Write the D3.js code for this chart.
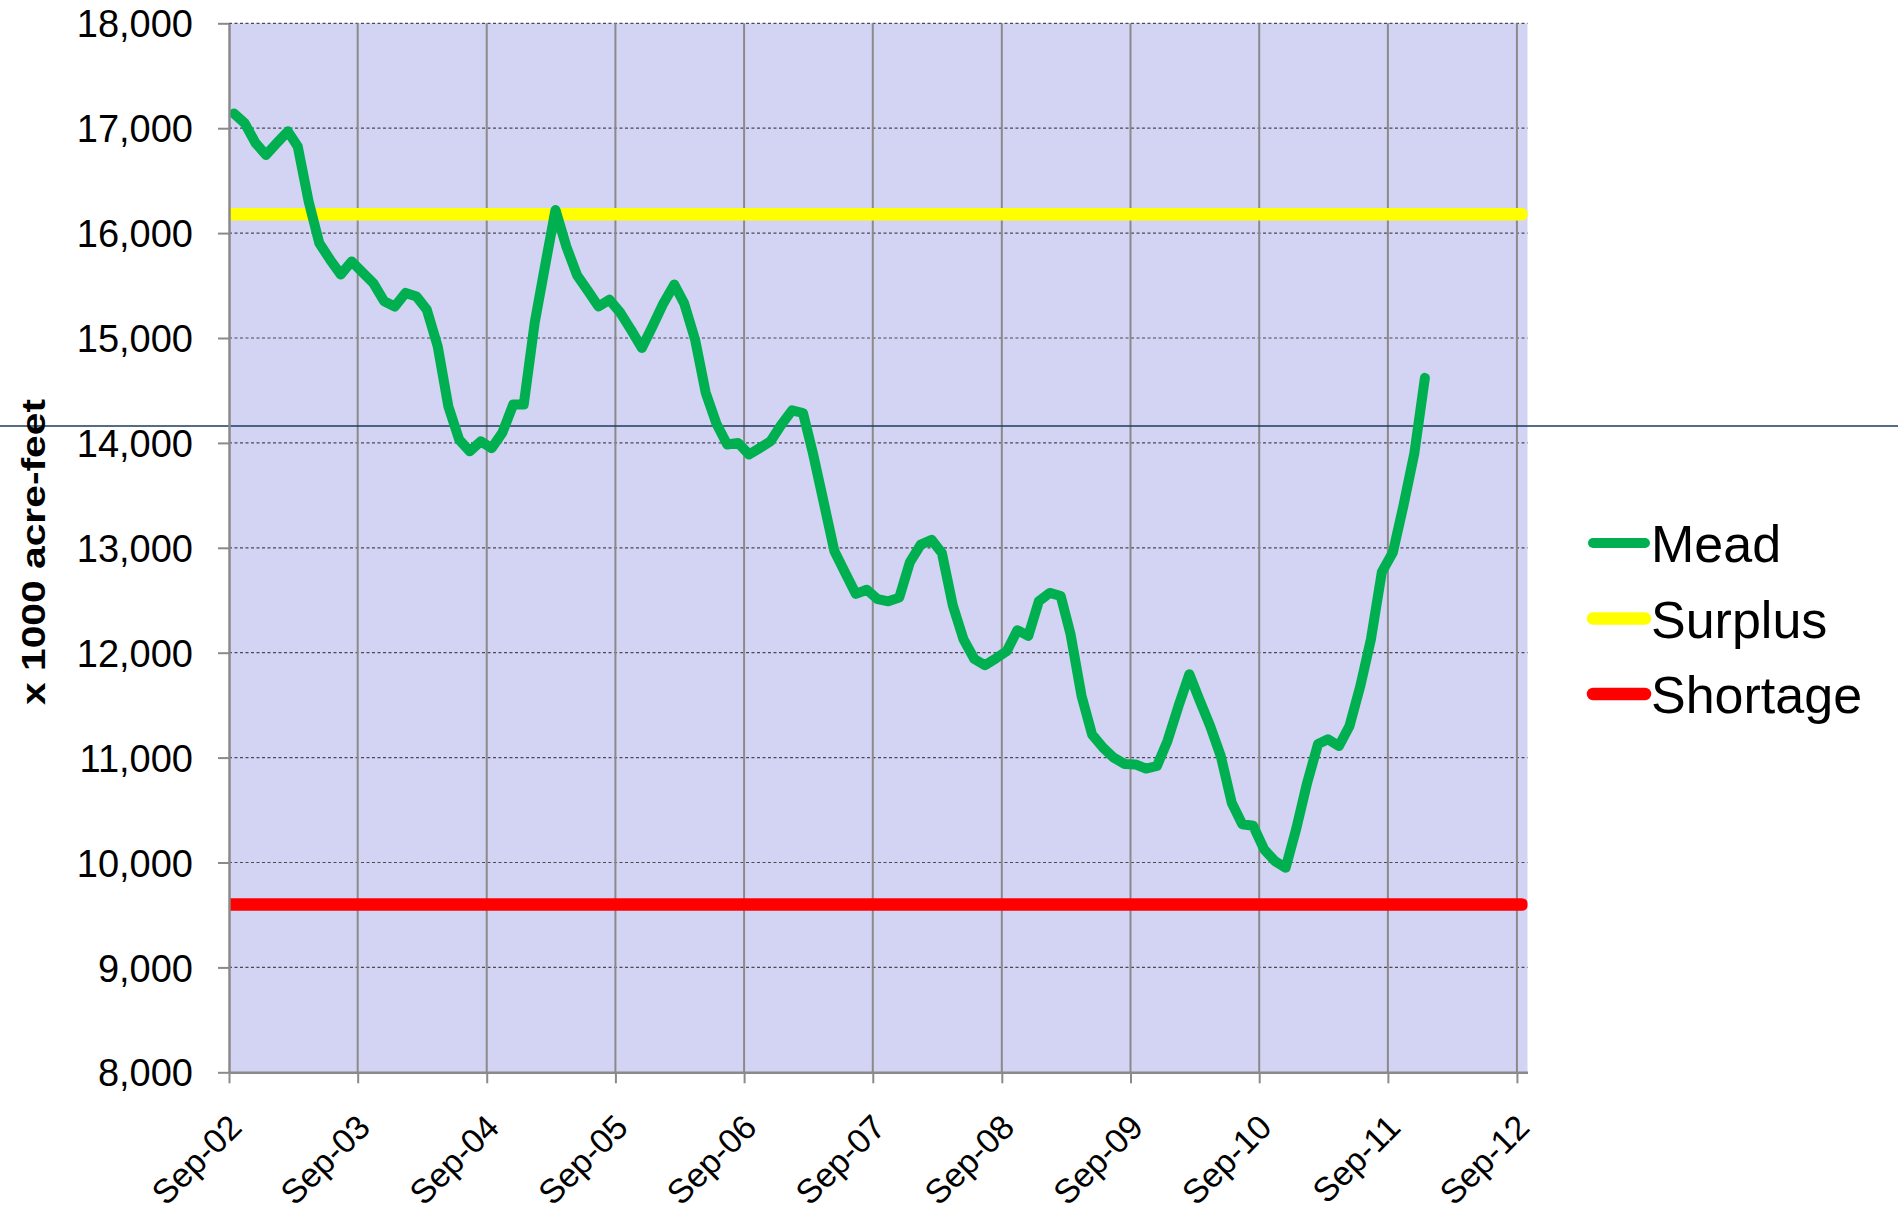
<!DOCTYPE html>
<html>
<head>
<meta charset="utf-8">
<script src="https://cdn.jsdelivr.net/npm/d3@7"></script>
<style>
  html, body { margin: 0; padding: 0; background: #fff; }
  svg { display: block; font-family: "Liberation Sans", Arial, sans-serif; }
</style>
</head>
<body>
<svg id="viz"></svg>
<script>
/* Data */

// Lake Mead storage, monthly, starting Sep 2002 (x 1000 acre-feet)
const meadStart = new Date(2002, 8, 15);
const meadValues = [
  17140, 17050, 16860, 16745, 16860, 16970, 16825, 16300, 15905, 15745, 15605, 15730,
  15625, 15525, 15350, 15300, 15430, 15395, 15270, 14920, 14350, 14030, 13920, 14015,
  13950, 14095, 14365, 14365, 15145, 15715, 16220, 15870, 15600, 15450, 15300, 15365,
  15240, 15080, 14905, 15110, 15330, 15510, 15330, 14985, 14480, 14180, 13985, 14000,
  13890, 13950, 14015, 14170, 14310, 14285, 13905, 13430, 12970, 12760, 12560, 12600,
  12510, 12490, 12525, 12860, 13030, 13075, 12950, 12450, 12130, 11940, 11880, 11945,
  12015, 12215, 12160, 12490, 12570, 12540, 12175, 11590, 11220, 11095, 11000, 10940,
  10935, 10895, 10920, 11160, 11490, 11795, 11555, 11300, 11015, 10570, 10365, 10350,
  10125, 10015, 9950, 10320, 10760, 11130, 11175, 11110, 11300, 11685, 12130, 12770,
  12955, 13400, 13900, 14620
];

const surplusLevel = 16180;
const shortageLevel = 9600;
const levelDates = [new Date(2002, 7, 1), new Date(2012, 8, 15)];

const seriesNames = ["Mead", "Surplus", "Shortage"];
const seriesColors = ["#00B050", "#FFFF00", "#FF0000"];

const yTicks = [8000, 9000, 10000, 11000, 12000, 13000, 14000, 15000, 16000, 17000, 18000];
const xTickYears = [2002, 2003, 2004, 2005, 2006, 2007, 2008, 2009, 2010, 2011, 2012];
const yTitle = "x 1000 acre-feet";

/* Environment */

let width = 1898;
let height = 1216;

/* Layout */

let plot = {left: 229, right: 1527.5, top: 23.3, bottom: 1072.3};
let ruleY = 426;

/* SVG */

const svg = d3.select('#viz')
    .attr('width', width)
    .attr('height', height);

/* Scales */

let x = d3.scaleTime()
    .domain([new Date(2002, 8, 1), new Date(2012, 9, 1)])
    .range([plot.left, plot.right]);

let y = d3.scaleLinear()
    .domain([8000, 18000])
    .range([plot.bottom, plot.top]);

let color = d3.scaleOrdinal().domain(seriesNames).range(seriesColors);

let meadData = meadValues.map((v, i) => ({date: d3.timeMonth.offset(meadStart, i), value: v}));

/* Layers */

svg.append("defs").append("clipPath")
    .attr("id", "plot-clip")
    .append("rect")
    .attr("x", plot.left)
    .attr("y", plot.top - 10)
    .attr("width", plot.right - plot.left)
    .attr("height", plot.bottom - plot.top + 20);

let gBack = svg.append("g");
let gGrid = svg.append("g");
let gRule = svg.append("g");
let gLines = svg.append("g").attr("clip-path", "url(#plot-clip)");
let gXAxis = svg.append("g");
let gYAxis = svg.append("g");
let gTitle = svg.append("g");
let gLegend = svg.append("g");

/* Background */

gBack.append("rect")
    .attr("x", plot.left)
    .attr("y", plot.top)
    .attr("width", plot.right - plot.left)
    .attr("height", plot.bottom - plot.top)
    .attr("fill", "#D3D3F3");

/* Grid */

let xTicks = xTickYears.map(yr => new Date(yr, 8, 1));

gGrid.selectAll("line.h")
    .data(yTicks.filter(d => d > 8000))
    .enter().append("line")
    .attr("class", "h")
    .attr("x1", plot.left)
    .attr("x2", plot.right)
    .attr("y1", d => y(d))
    .attr("y2", d => y(d))
    .attr("stroke", "#4a4a55")
    .attr("stroke-width", 1.2)
    .attr("stroke-dasharray", "3,2.5");

gGrid.selectAll("line.v")
    .data(xTicks.slice(1))
    .enter().append("line")
    .attr("class", "v")
    .attr("x1", d => x(d))
    .attr("x2", d => x(d))
    .attr("y1", plot.top)
    .attr("y2", plot.bottom)
    .attr("stroke", "#8a8a8a")
    .attr("stroke-width", 2);

/* Stray rule across the page */

gRule.append("line")
    .attr("x1", 0)
    .attr("x2", width)
    .attr("y1", ruleY)
    .attr("y2", ruleY)
    .attr("stroke", "#1F3A5F")
    .attr("stroke-width", 1.6);

/* Lines */

let line = d3.line()
    .x(d => x(d.date))
    .y(d => y(d.value));

gLines.append("path")
    .datum(levelDates.map(d => ({date: d, value: shortageLevel})))
    .attr("fill", "none")
    .attr("stroke", color("Shortage"))
    .attr("stroke-width", 12.5)
    .attr("stroke-linecap", "round")
    .attr("d", line);

gLines.append("path")
    .datum(levelDates.map(d => ({date: d, value: surplusLevel})))
    .attr("fill", "none")
    .attr("stroke", color("Surplus"))
    .attr("stroke-width", 12.5)
    .attr("stroke-linecap", "round")
    .attr("d", line);

gLines.append("path")
    .datum(meadData)
    .attr("fill", "none")
    .attr("stroke", color("Mead"))
    .attr("stroke-width", 10)
    .attr("stroke-linejoin", "round")
    .attr("stroke-linecap", "round")
    .attr("d", line);

/* Axis */

gXAxis
    .attr("transform", `translate(0,${plot.bottom})`)
    .call(d3.axisBottom(x).tickValues(xTicks).tickSize(11).tickSizeOuter(0)
      .tickFormat(d3.timeFormat("%b-%y")))
    .attr("font-family", null)
    .call(g => g.select(".domain").attr("stroke", "#8a8a8a").attr("stroke-width", 2.5))
    .call(g => g.selectAll(".tick line").attr("stroke", "#8a8a8a").attr("stroke-width", 2));

gXAxis.selectAll(".tick text")
    .attr("font-size", 34)
    .attr("fill", "#000")
    .attr("text-anchor", "end")
    .attr("y", 0)
    .attr("dy", 0)
    .attr("transform", "translate(14,57) rotate(-45)");

gYAxis
    .attr("transform", `translate(${plot.left},0)`)
    .call(d3.axisLeft(y).tickValues(yTicks).tickSize(11).tickSizeOuter(0)
      .tickFormat(d3.format(",")))
    .attr("font-family", null)
    .call(g => g.select(".domain").attr("stroke", "#8a8a8a").attr("stroke-width", 2.5))
    .call(g => g.selectAll(".tick line").attr("stroke", "#8a8a8a").attr("stroke-width", 2));

gYAxis.selectAll(".tick text")
    .attr("font-size", 38)
    .attr("fill", "#000")
    .attr("x", -36)
    .attr("dy", "0.36em");

/* Axis title */

gTitle.append("text")
    .attr("transform", `translate(45,552) rotate(-90)`)
    .attr("text-anchor", "middle")
    .attr("font-size", 33)
    .attr("font-weight", "bold")
    .attr("textLength", 306)
    .attr("lengthAdjust", "spacingAndGlyphs")
    .text(yTitle);

/* Legend */

const lg = gLegend
    .attr("transform", "translate(1593,543)")
    .selectAll("g")
    .data(seriesNames)
    .enter().append("g")
    .attr("transform", (d, i) => `translate(0,${i * 75.5})`);

lg.append("line")
    .attr("x1", 0)
    .attr("x2", 52)
    .attr("stroke", color)
    .attr("stroke-width", (d, i) => i === 0 ? 10 : 12.5)
    .attr("stroke-linecap", "round");

lg.append("text")
    .attr("x", 58)
    .attr("y", 19)
    .attr("font-size", 52)
    .attr("fill", "#000")
    .text(d => d);
</script>
</body>
</html>
